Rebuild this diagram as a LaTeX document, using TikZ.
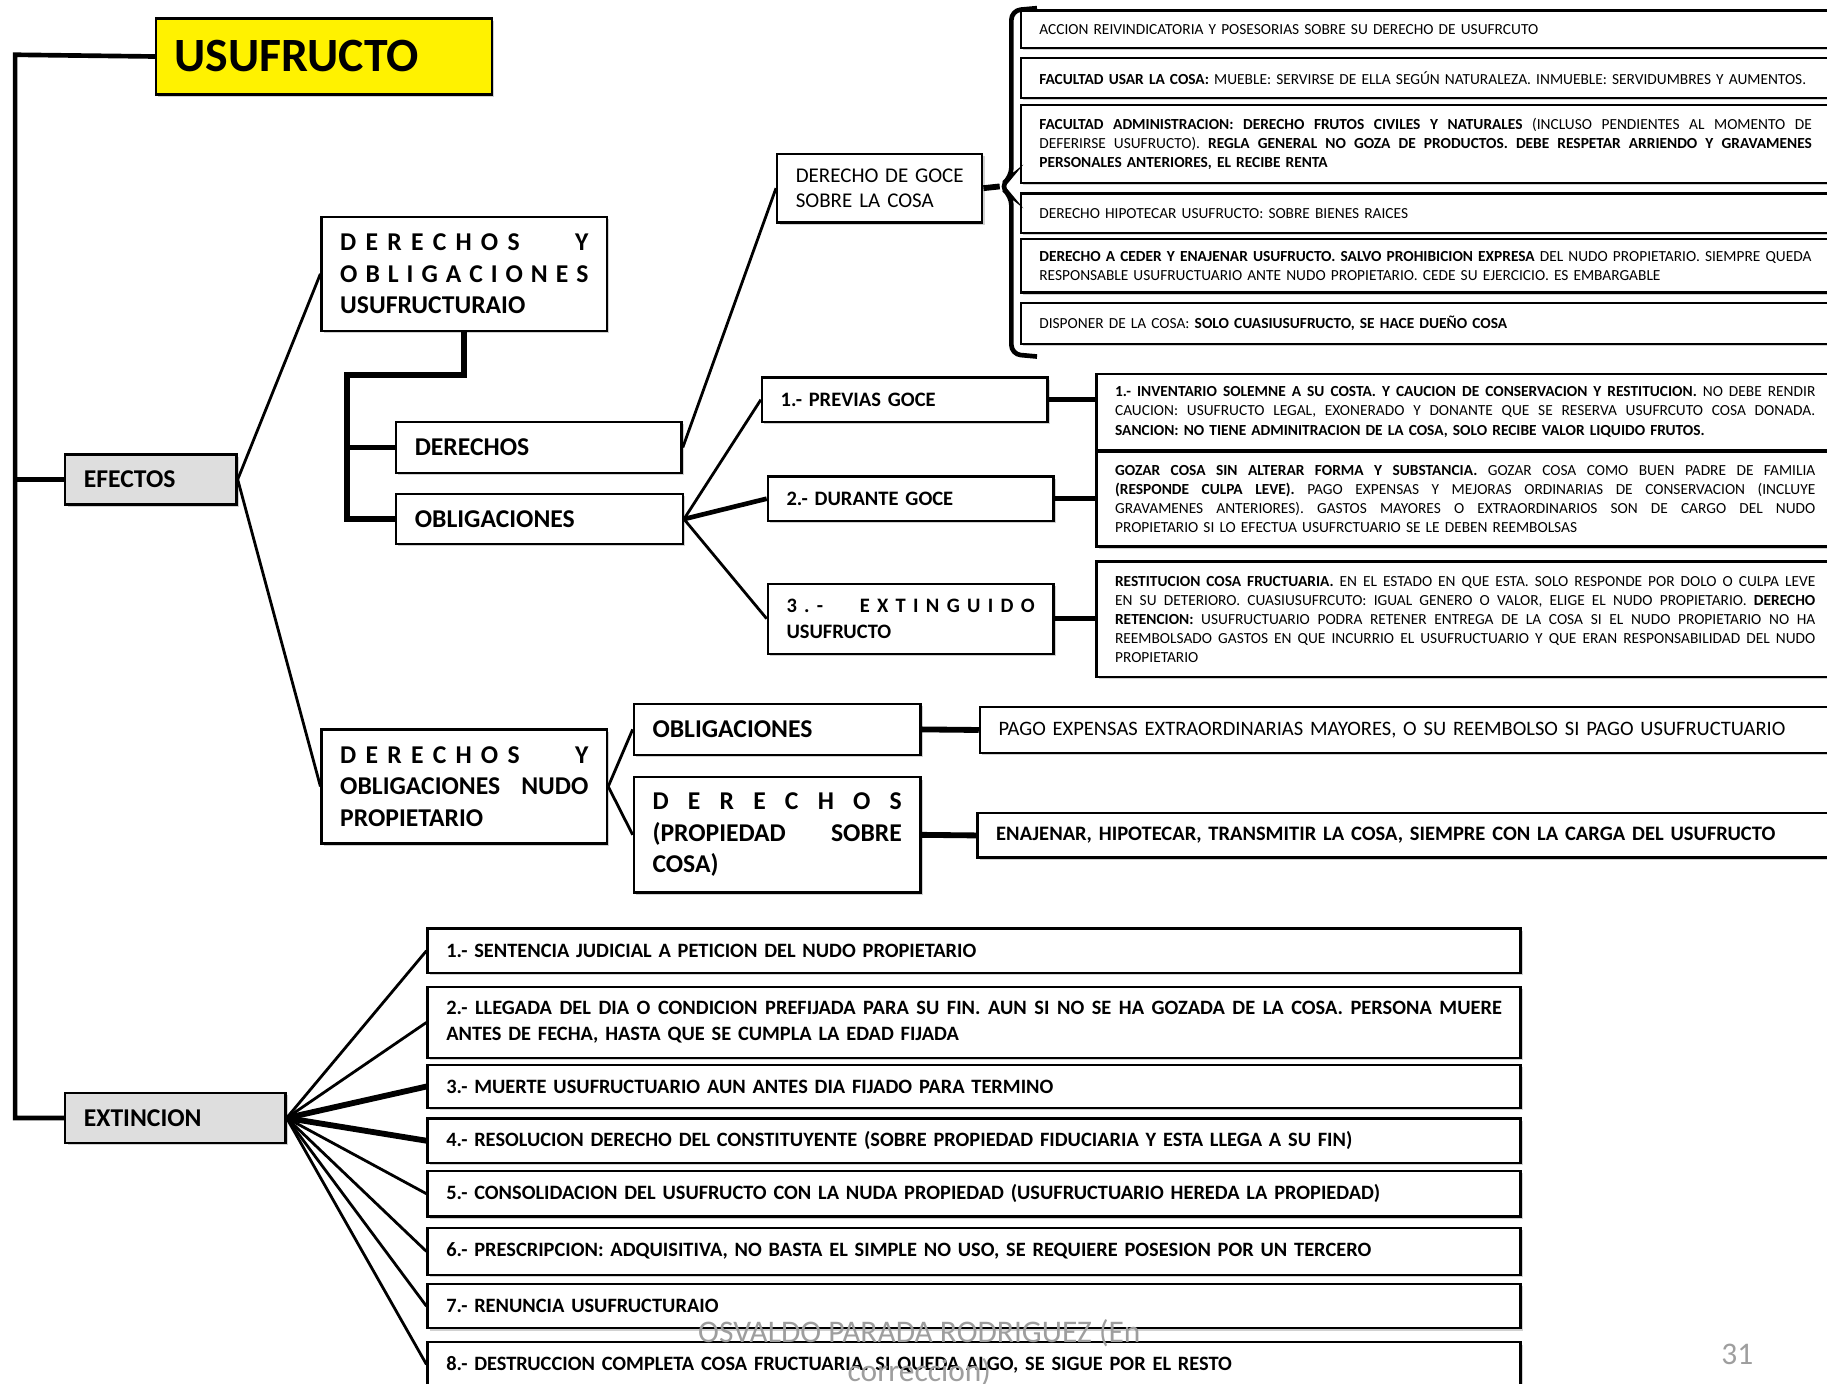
\documentclass[tikz,border=0pt]{standalone}
\usepackage{fontspec}
\setmainfont{Carlito}
\usetikzlibrary{shadows}
\newcommand\jl[1]{\noindent\hbox to\hsize{\frenchspacing\spaceskip=0.25em plus 1fil\relax #1}\\}
\begin{document}
\begin{tikzpicture}[x=0.5pt,y=-0.5pt,
  bx/.style={draw,fill=white,line width=1pt,anchor=north west,inner xsep=8pt,inner ysep=0pt,align=left,
    drop shadow={shadow xshift=1pt,shadow yshift=-1pt,fill=black!30,opacity=.6}},
  gris/.style={fill=black!13},
  ln/.style={line width=1.2pt},
  thk/.style={line width=2.5pt},
  tiny/.style={font=\fontsize{6.6}{8.2}\selectfont},
  med/.style={font=\fontsize{8.8}{11}\selectfont\bfseries},
  big/.style={font=\fontsize{11}{13.5}\selectfont\bfseries},
  ext/.style={font=\fontsize{8.75}{11}\selectfont\bfseries},
  pie/.style={text=black!38,align=center}]
\useasboundingbox (0,0) rectangle (1568,1187);
\node[bx,fill=yellow,text width=128pt,minimum height=32.5pt,font=\fontsize{20.5}{24}\selectfont\bfseries] (ttl) at (133,15) {USUFRUCTO};
\node[bx,gris,big,text width=57.5pt,minimum height=21.5pt] (efe) at (55,389) {EFECTOS};
\node[bx,gris,big,text width=78.5pt,minimum height=21.5pt] (ext) at (55,937) {EXTINCION};
\node[bx,big,text width=106.5pt,minimum height=49pt] (dou) at (275,185) {\jl{D E R E C H O S~~~~~~Y}\jl{O B L I G A C I O N E S}USUFRUCTURAIO};
\node[bx,big,text width=106.5pt,minimum height=22pt] (der) at (339,361) {DERECHOS};
\node[bx,big,text width=107pt,minimum height=21.5pt] (obl) at (339,423) {OBLIGACIONES};
\node[bx,text width=72pt,minimum height=29.5pt,font=\fontsize{9}{11}\selectfont] (goce) at (666,131) {\jl{DERECHO DE GOCE}SOBRE LA COSA};
\node[bx,tiny,text width=331.5pt,minimum height=16pt] (r1) at (875,8) {ACCION REIVINDICATORIA Y POSESORIAS SOBRE SU DERECHO DE USUFRCUTO};
\node[bx,tiny,text width=331.5pt,minimum height=17pt] (r2) at (875,49) {\textbf{FACULTAD USAR LA COSA:} MUEBLE: SERVIRSE DE ELLA SEGÚN NATURALEZA. INMUEBLE: SERVIDUMBRES Y AUMENTOS.};
\node[bx,tiny,text width=331.5pt,minimum height=33.5pt] (r3) at (875,89) {\jl{\textbf{FACULTAD ADMINISTRACION: DERECHO FRUTOS CIVILES Y NATURALES} (INCLUSO PENDIENTES AL MOMENTO DE}\jl{DEFERIRSE USUFRUCTO). \textbf{REGLA GENERAL NO GOZA DE PRODUCTOS. DEBE RESPETAR ARRIENDO Y GRAVAMENES}}\textbf{PERSONALES ANTERIORES, EL RECIBE RENTA}};
\node[bx,tiny,text width=331.5pt,minimum height=17pt] (r4) at (875,165) {DERECHO HIPOTECAR USUFRUCTO: SOBRE BIENES RAICES};
\node[bx,tiny,text width=331.5pt,minimum height=23pt] (r5) at (875,204) {\textbf{DERECHO A CEDER Y ENAJENAR USUFRUCTO. SALVO PROHIBICION EXPRESA} DEL NUDO PROPIETARIO. SIEMPRE QUEDA\\RESPONSABLE USUFRUCTUARIO ANTE NUDO PROPIETARIO. CEDE SU EJERCICIO. ES EMBARGABLE};
\node[bx,tiny,text width=331.5pt,minimum height=17.5pt] (r6) at (875,259) {DISPONER DE LA COSA: \textbf{SOLO CUASIUSUFRUCTO, SE HACE DUEÑO COSA}};
\node[bx,med,text width=106.5pt,minimum height=19pt] (pg1) at (653,323) {1.- PREVIAS GOCE};
\node[bx,med,text width=106.5pt,minimum height=19pt] (pg2) at (658,408) {2.- DURANTE GOCE};
\node[bx,med,text width=106.5pt,minimum height=30pt] (pg3) at (658,500) {\jl{3 . -~~~~~E X T I N G U I D O}USUFRUCTO};
\node[bx,tiny,text width=300.5pt,minimum height=32.5pt] (d1) at (940,320) {\jl{\textbf{1.- INVENTARIO SOLEMNE A SU COSTA. Y CAUCION DE CONSERVACION Y RESTITUCION.} NO DEBE RENDIR}\jl{CAUCION: USUFRUCTO LEGAL, EXONERADO Y DONANTE QUE SE RESERVA USUFRCUTO COSA DONADA.}\textbf{SANCION: NO TIENE ADMINITRACION DE LA COSA, SOLO RECIBE VALOR LIQUIDO FRUTOS.}};
\node[bx,tiny,text width=300.5pt,minimum height=40.5pt] (d2) at (940,387) {\jl{\textbf{GOZAR COSA SIN ALTERAR FORMA Y SUBSTANCIA.} GOZAR COSA COMO BUEN PADRE DE FAMILIA}\jl{\textbf{(RESPONDE CULPA LEVE).} PAGO EXPENSAS Y MEJORAS ORDINARIAS DE CONSERVACION (INCLUYE}\jl{GRAVAMENES ANTERIORES). GASTOS MAYORES O EXTRAORDINARIOS SON DE CARGO DEL NUDO}PROPIETARIO SI LO EFECTUA USUFRCTUARIO SE LE DEBEN REEMBOLSAS};
\node[bx,tiny,text width=300.5pt,minimum height=49.5pt] (d3) at (940,481) {\jl{\textbf{RESTITUCION COSA FRUCTUARIA.} EN EL ESTADO EN QUE ESTA. SOLO RESPONDE POR DOLO O CULPA LEVE}\jl{EN SU DETERIORO. CUASIUSUFRCUTO: IGUAL GENERO O VALOR, ELIGE EL NUDO PROPIETARIO. \textbf{DERECHO}}\jl{\textbf{RETENCION:} USUFRUCTUARIO PODRA RETENER ENTREGA DE LA COSA SI EL NUDO PROPIETARIO NO HA}\jl{REEMBOLSADO GASTOS EN QUE INCURRIO EL USUFRUCTUARIO Y QUE ERAN RESPONSABILIDAD DEL NUDO}PROPIETARIO};
\node[bx,big,text width=106.5pt,minimum height=49pt] (dnp) at (275,625) {\jl{D E R E C H O S~~~~~~Y}\jl{OBLIGACIONES NUDO}PROPIETARIO};
\node[bx,big,text width=107pt,minimum height=22pt] (onp) at (543,603) {OBLIGACIONES};
\node[bx,big,text width=107pt,minimum height=49.5pt] (dcp) at (543,666) {\jl{D E R E C H O S}\jl{(PROPIEDAD SOBRE}COSA)};
\node[bx,text width=351.5pt,minimum height=19.5pt,font=\fontsize{8.8}{11}\selectfont] (pago) at (840,606) {PAGO EXPENSAS EXTRAORDINARIAS MAYORES, O SU REEMBOLSO SI PAGO USUFRUCTUARIO};
\node[bx,text width=352.5pt,minimum height=19pt,font=\fontsize{8.8}{11}\selectfont\bfseries] (ena) at (838,697) {ENAJENAR, HIPOTECAR, TRANSMITIR LA COSA, SIEMPRE CON LA CARGA DEL USUFRUCTO};
\node[bx,ext,text width=453pt,minimum height=19pt] (e1) at (366,796) {1.- SENTENCIA JUDICIAL A PETICION DEL NUDO PROPIETARIO};
\node[bx,ext,text width=453pt,minimum height=30.5pt] (e2) at (366,846) {\jl{2.- LLEGADA DEL DIA O CONDICION PREFIJADA PARA SU FIN. AUN SI NO SE HA GOZADA DE LA COSA. PERSONA MUERE}ANTES DE FECHA, HASTA QUE SE CUMPLA LA EDAD FIJADA};
\node[bx,ext,text width=453pt,minimum height=18.5pt] (e3) at (366,913) {3.- MUERTE USUFRUCTUARIO AUN ANTES DIA FIJADO PARA TERMINO};
\node[bx,ext,text width=453pt,minimum height=19pt] (e4) at (366,959) {4.- RESOLUCION DERECHO DEL CONSTITUYENTE (SOBRE PROPIEDAD FIDUCIARIA Y ESTA LLEGA A SU FIN)};
\node[bx,ext,text width=453pt,minimum height=19.5pt] (e5) at (366,1004) {5.- CONSOLIDACION DEL USUFRUCTO CON LA NUDA PROPIEDAD (USUFRUCTUARIO HEREDA LA PROPIEDAD)};
\node[bx,ext,text width=453pt,minimum height=20pt] (e6) at (366,1053) {6.- PRESCRIPCION: ADQUISITIVA, NO BASTA EL SIMPLE NO USO, SE REQUIERE POSESION POR UN TERCERO};
\node[bx,ext,text width=453pt,minimum height=19pt] (e7) at (366,1101) {7.- RENUNCIA USUFRUCTURAIO};
\node[bx,ext,text width=453pt,minimum height=19pt] (e8) at (366,1151) {8.- DESTRUCCION COMPLETA COSA FRUCTUARIA. SI QUEDA ALGO, SE SIGUE POR EL RESTO};
\coordinate (sp) at (13,47);
\coordinate (bk) at (298,322);
\coordinate (brc) at (858,160);
\draw[line width=2pt] (ttl.west) -- (sp) |- (ext.west);
\draw[line width=2pt] (efe.west) -- (efe.west -| sp);
\draw[ln] (efe.east) -- (dou.west);
\draw[ln] (efe.east) -- (dnp.west);
\draw[thk] (dou.south) |- (bk) |- (obl.west);
\draw[thk] (der.west) -- (der.west -| bk);
\draw[ln] (der.east) -- (goce.west);
\draw[thk] (goce.east) -- (brc);
\draw[line width=2pt,rounded corners=4pt] (890,7) -- (868,9) -- (868,152) -- (brc) -- (868,168) -- (868,304) -- (890,306);
\draw[ln] (obl.east) -- (pg1.west);
\draw[line width=2pt] (obl.east) -- (pg2.west);
\draw[ln] (obl.east) -- (pg3.west);
\draw[line width=2pt] (pg1.east) -- (pg1.east -| d1.west);
\draw[line width=2pt] (pg2.east) -- (pg2.east -| d2.west);
\draw[line width=2pt] (pg3.east) -- (pg3.east -| d3.west);
\draw[ln] (dnp.east) -- (onp.west);
\draw[ln] (dnp.east) -- (dcp.west);
\draw[thk] (onp.east) -- (pago.west);
\draw[thk] (dcp.east) -- (ena.west);
\foreach \i in {1,2,5,6,7,8} \draw[ln] (ext.east) -- (e\i.west);
\draw[thk] (ext.east) -- (e3.west);
\draw[thk] (ext.east) -- (e4.west);
\node[pie,font=\fontsize{13.5}{16.5}\selectfont] (ftr) at (789,1161) {OSVALDO PARADA RODRIGUEZ (En\\correccion)};
\node[pie,font=\fontsize{13.5}{16}\selectfont] (pag) at (1491,1162) {31};
\end{tikzpicture}
\end{document}
